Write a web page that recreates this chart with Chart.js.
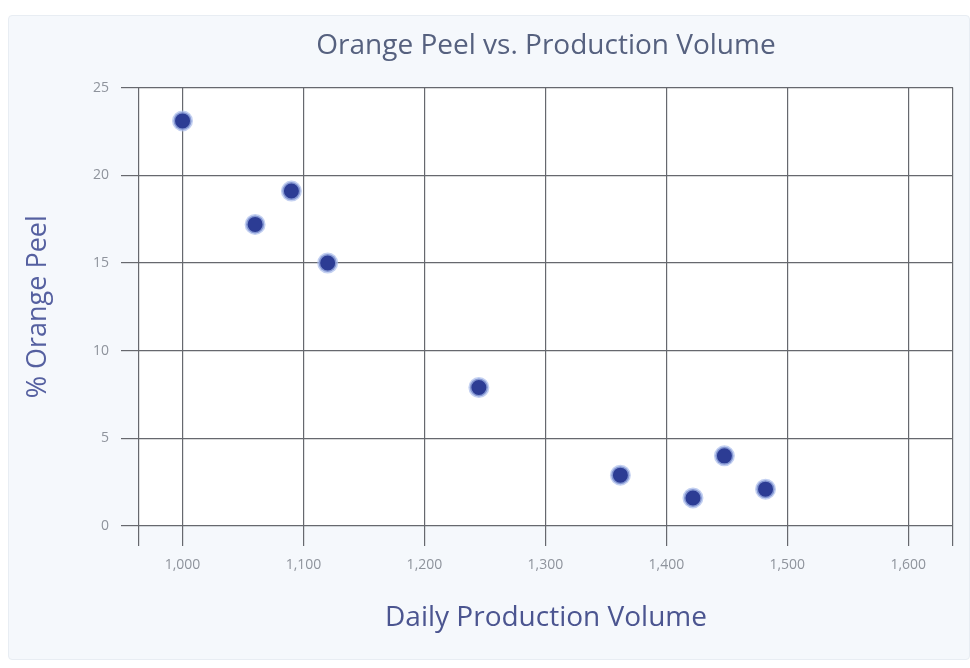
<!DOCTYPE html>
<html>
<head>
<meta charset="utf-8">
<script src="https://cdn.jsdelivr.net/npm/chart.js@4/dist/chart.umd.min.js"></script>
<style>
  html, body { margin: 0; padding: 0; background: #ffffff; }
  #panel {
    position: absolute; left: 8px; top: 15px; width: 962px; height: 645px;
    background: #f5f8fc; border: 1px solid #e8edf3; border-radius: 4px; box-sizing: border-box;
  }
  #wrap { position: absolute; left: 0; top: 0; width: 962px; height: 645px; }
</style>
</head>
<body>
<div id="panel"><div id="wrap"><canvas id="scatter"></canvas></div></div>
<script>
// chart data
var volume = [1000, 1060, 1090, 1120, 1245, 1362, 1422, 1448, 1482];
var orangePeel = [23.1, 17.2, 19.1, 15.0, 7.9, 2.9, 1.6, 4.0, 2.1];
var xTicks = [1000, 1100, 1200, 1300, 1400, 1500, 1600];
var yTicks = [0, 5, 10, 15, 20, 25];

var points = volume.map(function(v, i) {
    return { x: v, y: orangePeel[i] };
});

// white plot area
var plotBg = {
    id: 'plotBg',
    beforeDraw: function(chart) {
        var a = chart.chartArea, c = chart.ctx;
        c.save();
        c.fillStyle = '#ffffff';
        c.fillRect(a.left, a.top, a.right - a.left, a.bottom - a.top);
        c.restore();
    }
};

var ctx = document.getElementById('scatter');
var scatterChart = new Chart(ctx, {
    type: 'scatter',
    data: {
        datasets: [{
            label: '% Orange Peel',
            data: points,
            pointRadius: 9,
            pointHoverRadius: 9,
            pointBackgroundColor: '#2c3c94',
            pointBorderColor: 'rgba(170, 188, 235, 0.7)',
            pointBorderWidth: 3
        }]
    },
    options: {
        responsive: true,
        maintainAspectRatio: false,
        animation: false,
        layout: { padding: { left: 0, right: 18, top: 0, bottom: 0 } },
        plugins: {
            legend: { display: false },
            tooltip: { enabled: false },
            title: {
                display: true,
                fullSize: false,
                text: 'Orange Peel vs. Production Volume',
                color: '#56617f',
                font: { family: 'Open Sans', size: 28, weight: 'normal' },
                padding: { top: 13, bottom: 25 }
            }
        },
        scales: {
            x: {
                type: 'linear',
                min: 964,
                max: 1637,
                afterFit: function(s) { s.height = 135; },
                afterBuildTicks: function(s) {
                    s.ticks = [{ value: 964 }].concat(xTicks.map(function(v) { return { value: v }; }), [{ value: 1637 }]);
                },
                ticks: {
                    color: '#8e939c',
                    padding: 11,
                    font: { family: 'Open Sans', size: 14 },
                    callback: function(v) { return xTicks.indexOf(v) >= 0 ? v.toLocaleString('en-US') : ''; }
                },
                grid: { color: '#66686e', lineWidth: 1.2, tickLength: 20 },
                border: { display: false },
                title: {
                    display: true,
                    text: 'Daily Production Volume',
                    color: '#4b5590',
                    font: { family: 'Open Sans', size: 28 },
                    padding: { top: 0, bottom: 26 }
                }
            },
            y: {
                min: 0,
                max: 25,
                afterFit: function(s) { s.width = 130; },
                afterBuildTicks: function(s) {
                    s.ticks = yTicks.map(function(v) { return { value: v }; });
                },
                ticks: {
                    color: '#8e939c',
                    padding: 12,
                    font: { family: 'Open Sans', size: 14 }
                },
                grid: { color: '#66686e', lineWidth: 1.2, tickLength: 18 },
                border: { display: false },
                title: {
                    display: true,
                    text: '% Orange Peel',
                    color: '#5560a0',
                    font: { family: 'Open Sans', size: 27 },
                    padding: { top: 13, bottom: 0 }
                }
            }
        }
    },
    plugins: [plotBg]
});
</script>
</body>
</html>
